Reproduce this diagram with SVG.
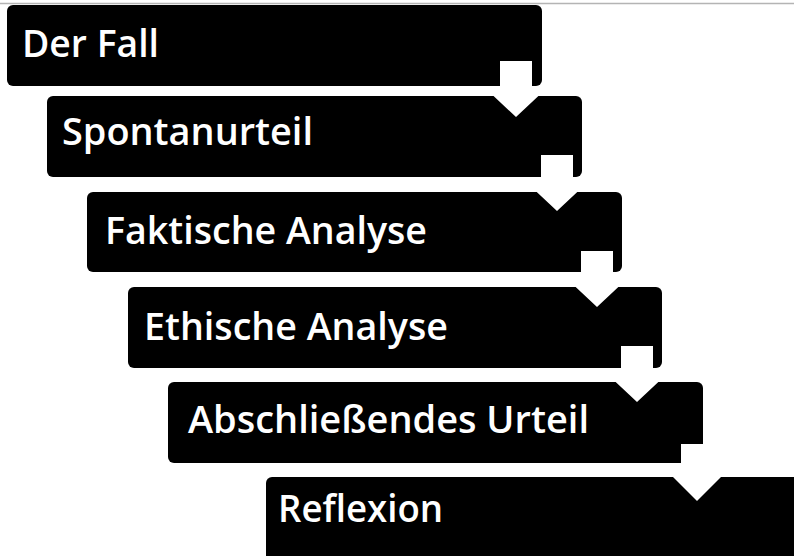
<svg xmlns="http://www.w3.org/2000/svg" width="794" height="556" viewBox="0 0 794 556">
<style>
.box{fill:#000}
.lbl{fill:#fff;font-family:"Open Sans",Lato,"Liberation Sans",sans-serif;font-size:38.5px;font-weight:600}
.arr{fill:#fff}
</style>
<rect width="794" height="556" fill="#fff"/>
<line x1="0" y1="3.5" x2="794" y2="3.5" stroke="#b4b4b4" stroke-width="1.5"/>
<g id="n1"><rect class="box" x="7" y="5" width="535" height="81" rx="6"/><text class="lbl" x="22" y="57" textLength="137" lengthAdjust="spacingAndGlyphs">Der Fall</text></g>
<g id="n2"><rect class="box" x="47" y="96" width="535" height="81" rx="6"/><text class="lbl" x="62" y="145" textLength="251" lengthAdjust="spacingAndGlyphs">Spontanurteil</text></g>
<g id="n3"><rect class="box" x="87" y="192" width="535" height="80" rx="6"/><text class="lbl" x="105" y="244" textLength="322" lengthAdjust="spacingAndGlyphs">Faktische Analyse</text></g>
<g id="n4"><rect class="box" x="128" y="287" width="534" height="81" rx="6"/><text class="lbl" x="144" y="340" textLength="304" lengthAdjust="spacingAndGlyphs">Ethische Analyse</text></g>
<g id="n5"><rect class="box" x="168" y="382" width="535" height="81" rx="6"/><text class="lbl" x="188" y="433" textLength="401" lengthAdjust="spacingAndGlyphs">Abschließendes Urteil</text></g>
<g id="n6"><rect class="box" x="266" y="477" width="540" height="90" rx="6"/><text class="lbl" x="278" y="522" textLength="165" lengthAdjust="spacingAndGlyphs">Reflexion</text></g>
<g id="connectors">
<polygon class="arr" points="500,61 532,61 532,87 548,87 516,117 484,87 500,87"/>
<polygon class="arr" points="541,155 573,155 573,181 589,181 557,211 525,181 541,181"/>
<polygon class="arr" points="581,251 613,251 613,277 629,277 597,307 565,277 581,277"/>
<polygon class="arr" points="621,346 653,346 653,372 669,372 637,402 605,372 621,372"/>
<polygon class="arr" points="681,444 713,444 713,469 729,469 697,501 665,469 681,469"/>
</g>
</svg>
